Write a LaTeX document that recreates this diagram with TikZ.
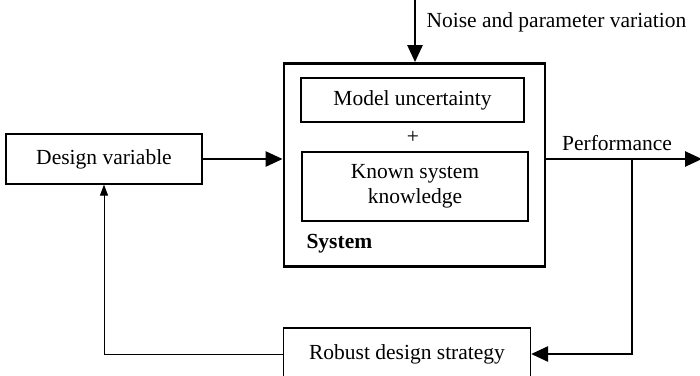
\documentclass[tikz,border=0pt]{standalone}
\usepackage{fontspec}
\setmainfont{Liberation Serif}
\usetikzlibrary{arrows.meta}
\begin{document}
\begin{tikzpicture}[x=1pt,y=-1pt,
  every node/.style={font=\fontsize{21.5}{25}\selectfont},
  blockbox/.style={draw,line width=1.2pt,inner sep=0pt},
  thickline/.style={line width=2.6pt},
  bigtip/.style={-{Triangle[length=17pt,width=15pt]}},
  smalltip/.style={-{Triangle[length=11pt,width=8pt]}}]
\useasboundingbox (0,0) rectangle (700,375);
% main system block with its two inner boxes
\node[draw,line width=2.8pt,minimum width=261pt,minimum height=203pt,inner sep=0pt] (sys) at (414.5,165) {};
\node[blockbox,minimum width=223pt,minimum height=44pt] (mu) at (412.5,100) {Model uncertainty};
\node (plus) at (413,137) {+};
\node[blockbox,minimum width=226pt,minimum height=69pt,align=center] (ks) at (415,186.5) {Known system\\knowledge};
\node[anchor=base west,font=\fontsize{21.5}{25}\selectfont\bfseries] (syslbl) at (303,248) {System};
% design variable and strategy blocks
\node[blockbox,minimum width=196pt,minimum height=50pt] (dv) at (104,159) {Design variable};
\node[blockbox,minimum width=247pt,minimum height=52pt] (rd) at (407,354) {Robust design strategy};
% disturbance input
\coordinate (ntop) at (415,0);
\draw[thickline,bigtip] (ntop) -- (sys.north -| ntop);
\node[anchor=west] (noise) at (423,22) {Noise and parameter variation};
% forward path
\draw[thickline,bigtip] (dv.east) -- (dv.east -| sys.west);
\coordinate (out) at (702,159);
\coordinate (tap) at (632,159);
\draw[thickline,bigtip] (sys.east |- out) -- (out);
\node (perf) at (617,143) {Performance};
% feedback path
\draw[thickline,bigtip] (tap) -- (tap |- rd.east) -- (rd.east);
\draw[line width=1pt,smalltip] (rd.west) -- (rd.west -| dv.south) -- (dv.south);
\end{tikzpicture}
\end{document}
